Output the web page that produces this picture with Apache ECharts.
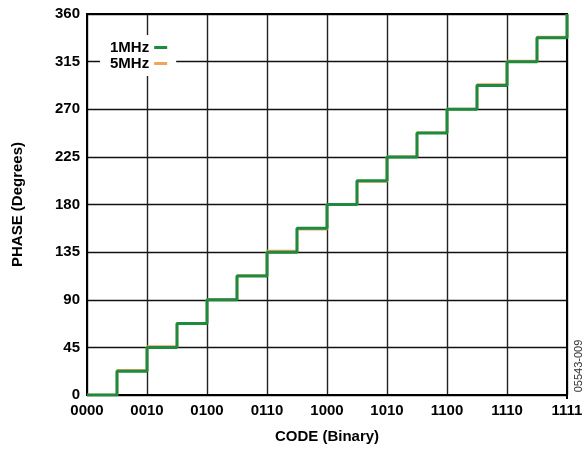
<!DOCTYPE html>
<html>
<head>
<meta charset="utf-8">
<script src="https://cdn.jsdelivr.net/npm/echarts@6/dist/echarts.min.js"></script>
<style>html,body{margin:0;padding:0;background:#fff}#c{width:588px;height:449px}</style>
</head>
<body>
<div id="c"></div>
<script>
var codes = [0,1,2,3,4,5,6,7,8,9,10,11,12,13,14,15,16];
var phase1MHz = [0,22.5,45,67.5,90,112.5,135,157.5,180,202.5,225,247.5,270,292.5,315,337.5,360];
var phase5MHz = [0,23.3,45.9,67.8,90.2,112.8,136,156.7,180.2,201.8,225.2,247.8,270.3,293.4,315.6,338.3,360];
var xTickLabels = ['0000','0010','0100','0110','1000','1010','1100','1110','1111'];

function pairs(xs, ys){ return xs.map(function(x,i){ return [x, ys[i]]; }); }

var font = 'Liberation Sans, Arial, sans-serif';
var chart = echarts.init(document.getElementById('c'));
chart.setOption({
  animation: false,
  backgroundColor: '#fff',
  grid: {left: 87, right: 21, top: 14, bottom: 51, containLabel: false},
  legend: {
    left: 100, top: 35, orient: 'vertical', align: 'right',
    backgroundColor: '#fff', padding: [5, 9, 5, 10], itemGap: 1,
    itemWidth: 13, itemHeight: 3, icon: 'rect',
    textStyle: {fontFamily: font, fontWeight: 'bold', fontSize: 15, color: '#000'},
    data: ['1MHz', '5MHz']
  },
  xAxis: {
    type: 'value', min: 0, max: 16, interval: 2,
    name: 'CODE (Binary)', nameLocation: 'middle', nameGap: 34,
    nameTextStyle: {fontFamily: font, fontWeight: 'bold', fontSize: 15, color: '#000'},
    axisLine: {show: true, lineStyle: {color: '#000', width: 2}},
    axisTick: {show: false},
    axisLabel: {margin: 8, fontFamily: font, fontWeight: 'bold', fontSize: 15, color: '#000',
      formatter: function(v){ return xTickLabels[Math.round(v/2)]; }},
    splitLine: {show: true, lineStyle: {color: '#222', width: 1.4}}
  },
  yAxis: {
    type: 'value', min: 0, max: 360, interval: 45,
    name: 'PHASE (Degrees)', nameLocation: 'middle', nameGap: 62,
    nameTextStyle: {fontFamily: font, fontWeight: 'bold', fontSize: 15, color: '#000'},
    axisLine: {show: true, lineStyle: {color: '#000', width: 2}},
    axisTick: {show: false},
    axisLabel: {margin: 7, fontFamily: font, fontWeight: 'bold', fontSize: 15, color: '#000'},
    splitLine: {show: true, lineStyle: {color: '#111', width: 1.4}}
  },
  graphic: [
    {type: 'rect', left: 566, top: 13, shape: {width: 2, height: 386}, style: {fill: '#000'}, z: 1},
    {type: 'rect', left: 86, top: 13, shape: {width: 482, height: 2}, style: {fill: '#000'}, z: 1},
    {type: 'text', x: 579, y: 366, rotation: Math.PI/2,
      style: {text: '05543-009', fontFamily: font, fontSize: 11, fill: '#333', align: 'center', verticalAlign: 'middle'}}
  ],
  series: [
    {name: '5MHz', type: 'line', step: 'end', showSymbol: false, symbol: 'none',
      data: pairs(codes, phase5MHz), lineStyle: {color: '#f5a05c', width: 2.5}, itemStyle: {color: '#f5a05c'}, z: 3},
    {name: '1MHz', type: 'line', step: 'end', showSymbol: false, symbol: 'none',
      data: pairs(codes, phase1MHz), lineStyle: {color: '#1d8a3e', width: 3}, itemStyle: {color: '#1d8a3e'}, z: 4}
  ]
});
</script>
</body>
</html>
